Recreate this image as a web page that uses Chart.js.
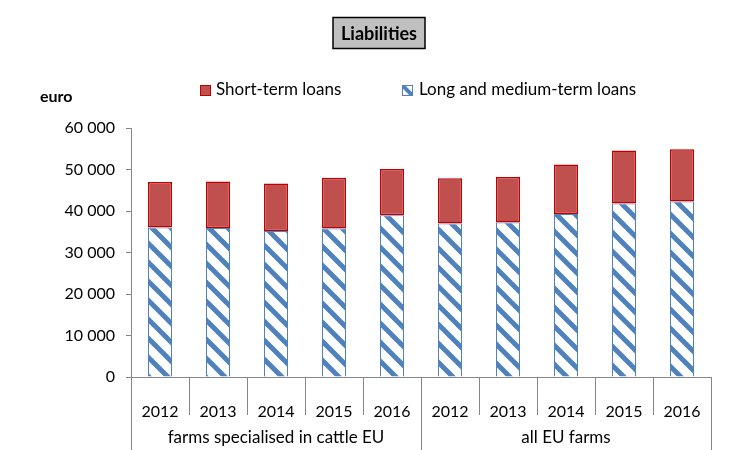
<!DOCTYPE html>
<html>
<head>
<meta charset="utf-8">
<script src="https://cdn.jsdelivr.net/npm/chart.js@4.4.1/dist/chart.umd.min.js"></script>
<style>
html,body{margin:0;padding:0;background:#fff;}
#wrap{width:739px;height:450px;position:relative;}
</style>
</head>
<body>
<div id="wrap"><canvas id="c" width="739" height="450"></canvas></div>
<script>
const years = ['2012','2013','2014','2015','2016','2012','2013','2014','2015','2016'];
const groups = ['farms specialised in cattle EU','all EU farms'];
const groupSize = 5;
const longMediumLoans = [36000, 35900, 35200, 35800, 39000, 37000, 37200, 39300, 41800, 42300];
const shortTermLoans = [11000, 11200, 11400, 12200, 11100, 10900, 11000, 11900, 12800, 12600];
const seriesNames = ['Long and medium-term loans', 'Short-term loans'];
const titleText = 'Liabilities';
const unitText = 'euro';

const FONT = 'Lato, "Open Sans", sans-serif';
const BLUE = '#4F81BD';
const RED = '#C0504D';
const RED_BORDER = '#C00000';
const AXIS = '#868686';

function makeHatch() {
  const s = 19;
  const c = document.createElement('canvas');
  c.width = s; c.height = s;
  const g = c.getContext('2d');
  g.fillStyle = '#fff';
  g.fillRect(0, 0, s, s);
  g.strokeStyle = BLUE;
  g.lineWidth = 5;
  for (let k = -1; k <= 1; k++) {
    g.beginPath();
    g.moveTo(k * s - 2, -2);
    g.lineTo(k * s + s + 2, s + 2);
    g.stroke();
  }
  return g.createPattern(c, 'repeat');
}
const ctx0 = document.getElementById('c').getContext('2d');
const hatch = makeHatch();

const decorPlugin = {
  id: 'decor',
  afterDraw(chart) {
    const ctx = chart.ctx;
    const x = chart.scales.x;
    const area = chart.chartArea;
    ctx.save();
    // title box
    ctx.font = 'bold 18px ' + FONT;
    ctx.textAlign = 'center';
    ctx.textBaseline = 'middle';
    const cx = 379, cy = 33;
    const bw = 92, bh = 31;
    ctx.fillStyle = '#C0C0C0';
    ctx.fillRect(cx - bw / 2, cy - bh / 2, bw, bh);
    ctx.strokeStyle = '#000';
    ctx.lineWidth = 1.5;
    ctx.strokeRect(cx - bw / 2, cy - bh / 2, bw, bh);
    ctx.fillStyle = '#000';
    ctx.fillText(titleText, cx, cy + 1);

    // unit label
    ctx.font = 'bold 16px ' + FONT;
    ctx.textAlign = 'left';
    ctx.fillText(unitText, 40, 97);

    // legend
    ctx.font = '17px ' + FONT;
    ctx.textBaseline = 'middle';
    // short-term
    ctx.fillStyle = RED;
    ctx.fillRect(200, 85, 11, 11);
    ctx.strokeStyle = RED_BORDER;
    ctx.lineWidth = 1;
    ctx.strokeRect(200.5, 85.5, 10, 10);
    ctx.fillStyle = '#000';
    ctx.fillText(seriesNames[1], 216, 90);
    // long
    ctx.fillStyle = '#fff';
    ctx.fillRect(402, 85, 11, 11);
    ctx.save();
    ctx.beginPath();
    ctx.rect(402, 85, 11, 11);
    ctx.clip();
    ctx.strokeStyle = BLUE;
    ctx.lineWidth = 4;
    ctx.beginPath();
    ctx.moveTo(400, 83); ctx.lineTo(415, 98);
    ctx.stroke();
    ctx.restore();
    ctx.strokeStyle = BLUE;
    ctx.lineWidth = 1;
    ctx.strokeRect(402.5, 85.5, 10, 10);
    ctx.fillStyle = '#000';
    ctx.fillText(seriesNames[0], 419, 90);

    // category table lines
    const n = years.length;
    const half = (x.getPixelForValue(1) - x.getPixelForValue(0)) / 2;
    ctx.strokeStyle = AXIS;
    ctx.lineWidth = 1;
    for (let i = 0; i <= n; i++) {
      const px = Math.round(i < n ? x.getPixelForValue(i) - half : x.getPixelForValue(n - 1) + half) + 0.5;
      const isEdge = (i % groupSize === 0);
      ctx.beginPath();
      ctx.moveTo(px, area.bottom);
      ctx.lineTo(px, isEdge ? 450 : 415);
      ctx.stroke();
    }
    // group labels
    ctx.fillStyle = '#000';
    ctx.font = '17px ' + FONT;
    ctx.textAlign = 'center';
    ctx.textBaseline = 'middle';
    for (let gI = 0; gI < groups.length; gI++) {
      const a = x.getPixelForValue(gI * groupSize);
      const b = x.getPixelForValue(gI * groupSize + groupSize - 1);
      ctx.fillText(groups[gI], (a + b) / 2, 438);
    }
    ctx.restore();
  }
};

new Chart(ctx0, {
  type: 'bar',
  data: {
    labels: years,
    datasets: [
      {
        label: seriesNames[0],
        data: longMediumLoans,
        backgroundColor: hatch,
        borderColor: BLUE,
        borderWidth: 1,
        borderSkipped: 'bottom',
        categoryPercentage: 1,
        barPercentage: 0.414
      },
      {
        label: seriesNames[1],
        data: shortTermLoans,
        backgroundColor: RED,
        borderColor: RED_BORDER,
        borderWidth: 1.5,
        borderSkipped: false,
        categoryPercentage: 1,
        barPercentage: 0.414
      }
    ]
  },
  plugins: [decorPlugin],
  options: {
    responsive: false,
    animation: false,
    events: [],
    layout: { padding: { top: 128, left: 0, right: 28, bottom: 0 } },
    plugins: {
      legend: { display: false },
      title: { display: false },
      tooltip: { enabled: false }
    },
    scales: {
      x: {
        stacked: true,
        afterFit(s) { s.height = 73; },
        grid: { display: false, offset: true },
        border: { display: true, color: AXIS, width: 1 },
        ticks: {
          color: '#000',
          font: { family: FONT, size: 16 },
          padding: 17,
          maxRotation: 0,
          autoSkip: false
        }
      },
      y: {
        stacked: true,
        min: 0,
        max: 60000,
        afterFit(s) { s.width = 131; },
        grid: { display: true, drawOnChartArea: false, drawTicks: true, tickLength: 5, color: AXIS },
        border: { display: true, color: AXIS, width: 1 },
        ticks: {
          stepSize: 10000,
          color: '#000',
          padding: 11,
          font: { family: FONT, size: 16 },
          callback: (v) => String(v).replace(/\B(?=(\d{3})+(?!\d))/g, ' ')
        }
      }
    }
  }
});
</script>
</body>
</html>
